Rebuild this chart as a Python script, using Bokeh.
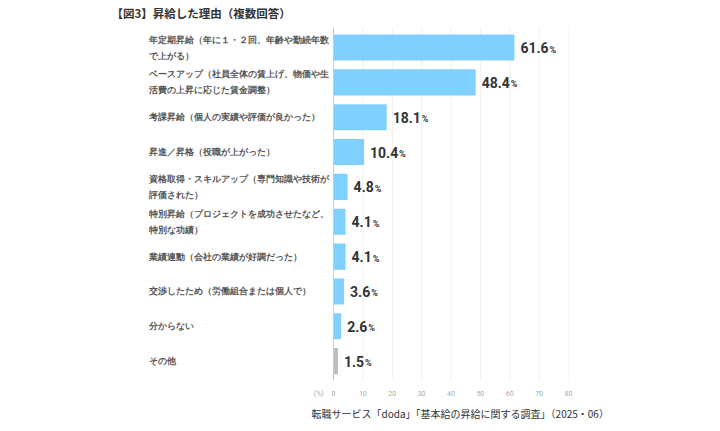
from bokeh.plotting import figure
from bokeh.models import Range1d, Label, LabelSet, ColumnDataSource, FixedTicker, Title
from bokeh.core.properties import value
from bokeh.embed import file_html
from bokeh.resources import INLINE

# ---- data ----
title_text = "【図3】昇給した理由（複数回答）"
source_text = "転職サービス「doda」「基本給の昇給に関する調査」（2025・06）"
label_line1 = [
    "年定期昇給（年に１・２回、年齢や勤続年数",
    "ベースアップ（社員全体の賃上げ、物価や生",
    "考課昇給（個人の実績や評価が良かった）",
    "昇進／昇格（役職が上がった）",
    "資格取得・スキルアップ（専門知識や技術が",
    "特別昇給（プロジェクトを成功させたなど、",
    "業績連動（会社の業績が好調だった）",
    "交渉したため（労働組合または個人で）",
    "分からない",
    "その他",
]
label_line2 = [
    "で上がる）",
    "活費の上昇に応じた賃金調整）",
    "",
    "",
    "評価された）",
    "特別な功績）",
    "",
    "",
    "",
    "",
]
values = [61.6, 48.4, 18.1, 10.4, 4.8, 4.1, 4.1, 3.6, 2.6, 1.5]
x_ticks = [0, 10, 20, 30, 40, 50, 60, 70, 80]
unit_label = "(%)"

BLUE = "#80D0FF"
GRAY = "#BDBDBD"
JP = "Noto Sans CJK JP"

# ---- layout constants (page pixels) ----
W, H = 704, 425
FL, FR, FT, FB = 100, 568, 0, 380      # frame box
X0 = 333                                 # pixel of value 0
PX_X = (FR - X0) / 80.0                  # px per unit
Y0 = 47                                  # pixel centre of first bar
PX_Y = 34.85                             # px per row

def dx(px):
    return (px - X0) / PX_X

def dy(py):
    return (py - Y0) / PX_Y

n = len(values)
idx = list(range(n))
colors = [GRAY if lab == "その他" else BLUE for lab in label_line1]
nums = [f"{v:.1f}" for v in values]
num_w = [sum(7.9 if c.isdigit() else 3.8 for c in s) for s in nums]
pct_off = [6 + w + 1.5 for w in num_w]
off1 = [8 if l2 else 0 for l2 in label_line2]

src = ColumnDataSource(dict(y=idx, v=values, c=colors, num=nums, pct=["%"] * n,
                            pct_off=pct_off, l1=label_line1, l2=label_line2,
                            off1=off1, xs=[dx(148)] * n))

p = figure(width=W, height=H, x_range=Range1d(dx(FL), 80), y_range=Range1d(dy(FB), dy(FT)),
           output_backend="svg", toolbar_location=None, y_axis_location=None,
           min_border_left=FL, min_border_right=W - FR, min_border_top=FT,
           min_border_bottom=H - FB, title=None)
p.outline_line_color = None
p.background_fill_color = "white"
p.border_fill_color = "white"
p.xgrid.grid_line_color = None
p.ygrid.grid_line_color = None

pct_pos = -5
p.xaxis.ticker = FixedTicker(ticks=[pct_pos] + x_ticks)
p.xaxis.major_label_overrides = {pct_pos: unit_label}
p.xaxis.axis_line_color = None
p.xaxis.major_tick_line_color = None
p.xaxis.minor_tick_line_color = None
p.xaxis.major_tick_out = 0
p.xaxis.major_tick_in = 0
p.xaxis.minor_tick_out = 0
p.xaxis.major_label_text_font = "Roboto"
p.xaxis.major_label_text_font_size = "7px"
p.xaxis.major_label_text_color = "#AAAAAA"
p.xaxis.major_label_standoff = 9

# grid lines and value axis line
line_top, line_bot = dy(27), dy(FB)
p.segment(x0=x_ticks[1:], x1=x_ticks[1:], y0=[line_top] * (len(x_ticks) - 1),
          y1=[line_bot] * (len(x_ticks) - 1), line_color="#F0F0F0", line_width=1)
p.hbar(y="y", right="v", left=0, height=0.75, color="c", line_color=None, source=src)
p.segment(x0=[x_ticks[0]], x1=[x_ticks[0]], y0=[line_top], y1=[line_bot],
          line_color="#CCCCCC", line_width=1)

p.text(x="v", y="y", text="num", x_offset=6, y_offset=0, source=src,
       text_font=value("Roboto"), text_font_style="bold", text_font_size="14px",
       text_color="#333333", text_baseline="middle")
p.text(x="v", y="y", text="pct", x_offset="pct_off", y_offset=2, source=src,
       text_font=value("Roboto"), text_font_style="bold", text_font_size="9px",
       text_color="#333333", text_baseline="middle")

p.add_layout(LabelSet(x="xs", y="y", text="l1", y_offset="off1", source=src,
                      text_font=JP, text_font_style="bold", text_font_size="8.7px",
                      text_color="#555555", text_baseline="middle"))
p.add_layout(LabelSet(x="xs", y="y", text="l2", y_offset=-8, source=src,
                      text_font=JP, text_font_style="bold", text_font_size="8.7px",
                      text_color="#555555", text_baseline="middle"))

p.add_layout(Label(x=dx(111), y=dy(12), text=title_text,
                   text_font=JP, text_font_style="bold", text_font_size="11.5px",
                   text_color="#333333", text_baseline="middle"))

p.add_layout(Title(text=source_text, align="left", offset=311 - FL, standoff=7,
                   text_font=JP, text_font_style="normal", text_font_size="10px",
                   text_color="#333333"), "below")

open("out.html", "w").write(file_html(p, INLINE))
